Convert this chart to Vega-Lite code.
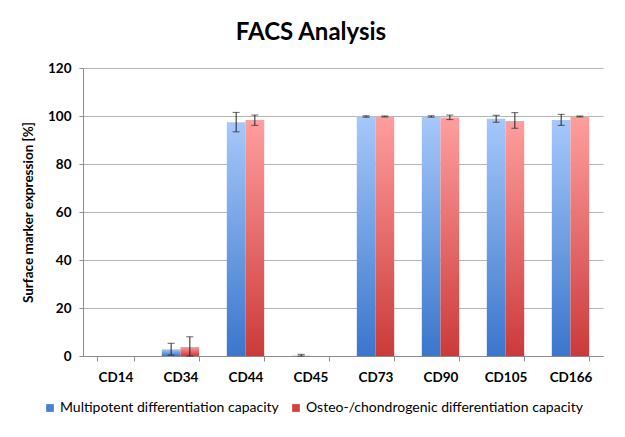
{
  "$schema": "https://vega.github.io/schema/vega-lite/v6.json",
  "width": 520,
  "height": 288,
  "autosize": {"type": "none"},
  "padding": {"left": 83, "top": 68, "right": 22, "bottom": 81},
  "background": "white",
  "title": {
    "text": "FACS Analysis",
    "fontSize": 24,
    "fontWeight": "bold",
    "font": "Lato",
    "color": "#000000",
    "anchor": "middle",
    "dx": -32,
    "offset": 16
  },
  "config": {
    "view": {"stroke": null},
    "font": "Lato"
  },
  "data": {
    "values": [
      {"marker": "CD14", "series": "Multipotent  differentiation capacity", "value": 0, "lo": null, "hi": null},
      {"marker": "CD14", "series": "Osteo-/chondrogenic differentiation capacity", "value": 0, "lo": null, "hi": null},
      {"marker": "CD34", "series": "Multipotent  differentiation capacity", "value": 2.8, "lo": 0.4, "hi": 5.3},
      {"marker": "CD34", "series": "Osteo-/chondrogenic differentiation capacity", "value": 3.75, "lo": 0, "hi": 8.0},
      {"marker": "CD44", "series": "Multipotent  differentiation capacity", "value": 97.4, "lo": 93.4, "hi": 101.5},
      {"marker": "CD44", "series": "Osteo-/chondrogenic differentiation capacity", "value": 98.3, "lo": 96.1, "hi": 100.4},
      {"marker": "CD45", "series": "Multipotent  differentiation capacity", "value": 0.2, "lo": 0, "hi": 0.7},
      {"marker": "CD45", "series": "Osteo-/chondrogenic differentiation capacity", "value": 0, "lo": null, "hi": null},
      {"marker": "CD73", "series": "Multipotent  differentiation capacity", "value": 99.8, "lo": 99.5, "hi": 100.1},
      {"marker": "CD73", "series": "Osteo-/chondrogenic differentiation capacity", "value": 99.8, "lo": 99.6, "hi": 100.0},
      {"marker": "CD90", "series": "Multipotent  differentiation capacity", "value": 99.8, "lo": 99.5, "hi": 100.1},
      {"marker": "CD90", "series": "Osteo-/chondrogenic differentiation capacity", "value": 99.4, "lo": 98.5, "hi": 100.4},
      {"marker": "CD105", "series": "Multipotent  differentiation capacity", "value": 98.9, "lo": 97.4, "hi": 100.3},
      {"marker": "CD105", "series": "Osteo-/chondrogenic differentiation capacity", "value": 97.9, "lo": 94.9, "hi": 101.4},
      {"marker": "CD166", "series": "Multipotent  differentiation capacity", "value": 98.3, "lo": 96.1, "hi": 100.7},
      {"marker": "CD166", "series": "Osteo-/chondrogenic differentiation capacity", "value": 99.8, "lo": 99.6, "hi": 100.0}
    ]
  },
  "encoding": {
    "x": {
      "field": "marker",
      "type": "nominal",
      "sort": ["CD14", "CD34", "CD44", "CD45", "CD73", "CD90", "CD105", "CD166"],
      "scale": {"paddingInner": 0.425, "paddingOuter": 0.2125},
      "axis": {
        "title": null,
        "labelAngle": 0,
        "labelFont": "Lato",
        "labelFontSize": 13.5,
        "labelFontWeight": "bold",
        "labelColor": "#000000",
        "labelPadding": 9,
        "tickBand": "extent",
        "tickSize": 5,
        "tickColor": "#8c8c8c",
        "domainColor": "#8c8c8c",
        "grid": false
      }
    },
    "xOffset": {
      "field": "series",
      "type": "nominal",
      "scale": {"domain": ["Multipotent  differentiation capacity", "Osteo-/chondrogenic differentiation capacity"], "paddingInner": 0, "paddingOuter": 0}
    }
  },
  "layer": [
    {
      "mark": {"type": "bar", "opacity": 0},
      "encoding": {
        "y": {
          "field": "value",
          "type": "quantitative",
          "scale": {"domain": [0, 120]},
          "axis": {
            "title": "Surface marker expression [%]",
            "titleFont": "Lato",
            "titleFontSize": 13.5,
            "titleFontWeight": "bold",
            "titleColor": "#000000",
            "titlePadding": 12,
            "values": [0, 20, 40, 60, 80, 100, 120],
            "labelFont": "Lato",
            "labelFontSize": 13.5,
            "labelFontWeight": "bold",
            "labelColor": "#000000",
            "labelPadding": 8,
            "tickSize": 4,
            "tickColor": "#8c8c8c",
            "domainColor": "#8c8c8c",
            "gridColor": "#b4b4b4",
            "gridWidth": 1
          }
        },
        "color": {
          "field": "series",
          "type": "nominal",
          "scale": {"domain": ["Multipotent  differentiation capacity", "Osteo-/chondrogenic differentiation capacity"], "range": ["#4a80d0", "#d9403f"]},
          "legend": {
            "title": null,
            "orient": "none",
            "direction": "horizontal",
            "legendX": -40,
            "legendY": 333,
            "symbolType": "square",
            "symbolSize": 60,
            "symbolOpacity": 1,
            "symbolStrokeWidth": 0,
            "labelFont": "Lato",
            "labelFontSize": 14,
            "labelLimit": 0,
            "labelColor": "#000000",
            "labelOffset": 3,
            "columnPadding": 6
          }
        }
      }
    },
    {
      "transform": [{"filter": "datum.series == 'Multipotent  differentiation capacity'"}],
      "mark": {
        "type": "bar",
        "color": {
          "gradient": "linear", "x1": 0, "y1": 0, "x2": 0, "y2": 1,
          "stops": [{"offset": 0, "color": "#a6c8fa"}, {"offset": 1, "color": "#3a76cc"}]
        }
      },
      "encoding": {"y": {"field": "value", "type": "quantitative"}}
    },
    {
      "transform": [{"filter": "datum.series == 'Osteo-/chondrogenic differentiation capacity'"}],
      "mark": {
        "type": "bar",
        "color": {
          "gradient": "linear", "x1": 0, "y1": 0, "x2": 0, "y2": 1,
          "stops": [{"offset": 0, "color": "#ff9e9e"}, {"offset": 1, "color": "#cc3a3a"}]
        }
      },
      "encoding": {"y": {"field": "value", "type": "quantitative"}}
    },
    {
      "mark": {"type": "rule", "color": "#222222", "strokeWidth": 1},
      "encoding": {
        "y": {"field": "lo", "type": "quantitative"},
        "y2": {"field": "hi"}
      }
    },
    {
      "mark": {"type": "tick", "color": "#222222", "thickness": 1, "size": 7},
      "encoding": {"y": {"field": "lo", "type": "quantitative"}}
    },
    {
      "mark": {"type": "tick", "color": "#222222", "thickness": 1, "size": 7},
      "encoding": {"y": {"field": "hi", "type": "quantitative"}}
    }
  ]
}
